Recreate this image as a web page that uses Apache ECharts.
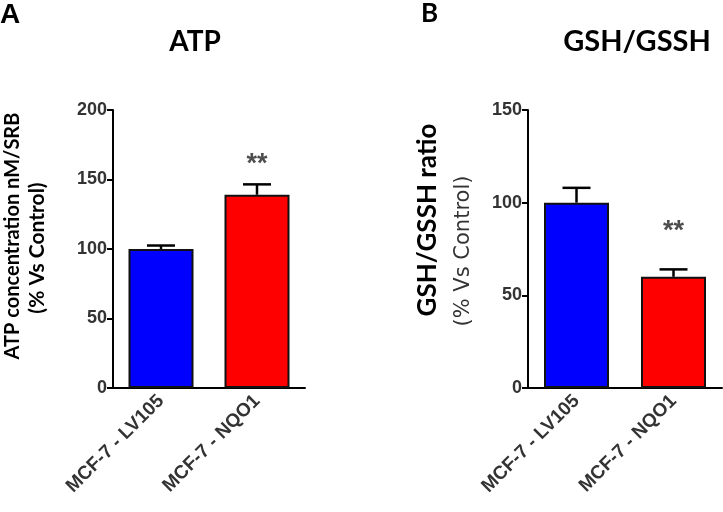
<!DOCTYPE html>
<html>
<head>
<meta charset="utf-8">
<script src="https://cdn.jsdelivr.net/npm/echarts@6/dist/echarts.min.js"></script>
<style>html,body{margin:0;padding:0;background:#fff}#c{width:723px;height:512px}</style>
</head>
<body>
<div id="c"></div>
<script>
const categories = ['MCF-7 - LV105', 'MCF-7 - NQO1'];
const atpValues = [100, 139];
const atpErrors = [2.5, 7.5];
const atpStars = [null, 166];
const gshValues = [100, 60];
const gshErrors = [8, 4];
const gshStars = [null, 88];
const atpTicks = { min: 0, max: 200, interval: 50 };
const gshTicks = { min: 0, max: 150, interval: 50 };
const barColors = ['#0000ff', '#ff0000'];

const chart = echarts.init(document.getElementById('c'));

function errSeries(idx, vals, errs) {
  return {
    type: 'custom', xAxisIndex: idx, yAxisIndex: idx, z: 1,
    data: vals.map((v, i) => [i, v, v + errs[i]]),
    renderItem: function (params, api) {
      const p0 = api.coord([api.value(0), api.value(1)]);
      const p1 = api.coord([api.value(0), api.value(2)]);
      const hw = 14;
      return {
        type: 'group', children: [
          { type: 'line', shape: { x1: p0[0], y1: p0[1], x2: p1[0], y2: p1[1] }, style: { stroke: '#000', lineWidth: 2.5 } },
          { type: 'line', shape: { x1: p1[0] - hw, y1: p1[1], x2: p1[0] + hw, y2: p1[1] }, style: { stroke: '#000', lineWidth: 2.5 } }
        ]
      };
    }
  };
}
function barSeries(idx, vals) {
  return {
    type: 'bar', xAxisIndex: idx, yAxisIndex: idx, barWidth: 65, z: 2,
    data: vals.map((v, i) => ({ value: v, itemStyle: { color: barColors[i], borderColor: '#111', borderWidth: 2 } }))
  };
}
function starSeries(idx, vals) {
  return {
    type: 'scatter', xAxisIndex: idx, yAxisIndex: idx, symbolSize: 0, z: 3,
    data: vals.map((v, i) => [i, v]),
    label: { show: true, position: 'inside', formatter: '**', fontFamily: 'Liberation Sans, Arial', fontWeight: 'bold', fontSize: 27, color: '#222', offset: [0, 7] }
  };
}
function xAx(idx) {
  return {
    type: 'category', gridIndex: idx, data: categories,
    axisLine: { lineStyle: { color: '#000', width: 2 } },
    axisTick: { alignWithLabel: true, length: 6, lineStyle: { color: '#000', width: 2 } },
    axisLabel: { rotate: 45, fontFamily: 'Liberation Sans, Arial', fontWeight: 'bold', fontSize: 19, color: '#333', margin: 10 }
  };
}
function yAx(idx, t) {
  return {
    type: 'value', gridIndex: idx, min: t.min, max: t.max, interval: t.interval,
    splitLine: { show: false },
    axisLine: { show: true, lineStyle: { color: '#000', width: 2 } },
    axisTick: { show: true, length: 6, lineStyle: { color: '#000', width: 2 } },
    axisLabel: { fontFamily: 'Liberation Sans, Arial', fontWeight: 'bold', fontSize: 18, color: '#333', margin: 6 }
  };
}

chart.setOption({
  animation: false,
  grid: [
    { left: 113, top: 110, width: 192, height: 278 },
    { left: 528, top: 110, width: 194, height: 278 }
  ],
  xAxis: [xAx(0), xAx(1)],
  yAxis: [yAx(0, atpTicks), yAx(1, gshTicks)],
  series: [
    errSeries(0, atpValues, atpErrors), barSeries(0, atpValues), starSeries(0, atpStars),
    errSeries(1, gshValues, gshErrors), barSeries(1, gshValues), starSeries(1, gshStars)
  ],
  graphic: [
    { type: 'text', x: 0, y: 1, style: { text: 'A', font: 'bold 28px "Liberation Sans", Arial', fill: '#000' } },
    { type: 'text', x: 421, y: 1, style: { text: 'B', font: 'bold 26px Lato, "Open Sans"', fill: '#000' } },
    { type: 'text', x: 195, y: 42, style: { text: 'ATP', font: 'bold 28px Lato, "Open Sans"', fill: '#000', textAlign: 'center', textVerticalAlign: 'middle' } },
    { type: 'text', x: 637, y: 42, style: { text: 'GSH/GSSH', font: 'bold 29px Lato, "Open Sans"', fill: '#000', textAlign: 'center', textVerticalAlign: 'middle' } },
    { type: 'text', x: 13, y: 236, rotation: Math.PI / 2, style: { text: 'ATP concentration nM/SRB', font: 'bold 20px Lato, "Open Sans"', fill: '#000', textAlign: 'center', textVerticalAlign: 'middle' } },
    { type: 'text', x: 37, y: 248, rotation: Math.PI / 2, style: { text: '(% Vs Control)', font: 'bold 21px Lato, "Open Sans"', fill: '#000', textAlign: 'center', textVerticalAlign: 'middle' } },
    { type: 'text', x: 428, y: 220, rotation: Math.PI / 2, style: { text: 'GSH/GSSH ratio', font: 'bold 26px Lato, "Open Sans"', fill: '#000', textAlign: 'center', textVerticalAlign: 'middle' } },
    { type: 'text', x: 464, y: 251, rotation: Math.PI / 2, style: { text: '(% Vs Control)', font: '21px "DejaVu Sans"', fill: '#333', textAlign: 'center', textVerticalAlign: 'middle' } }
  ]
});
</script>
</body>
</html>
